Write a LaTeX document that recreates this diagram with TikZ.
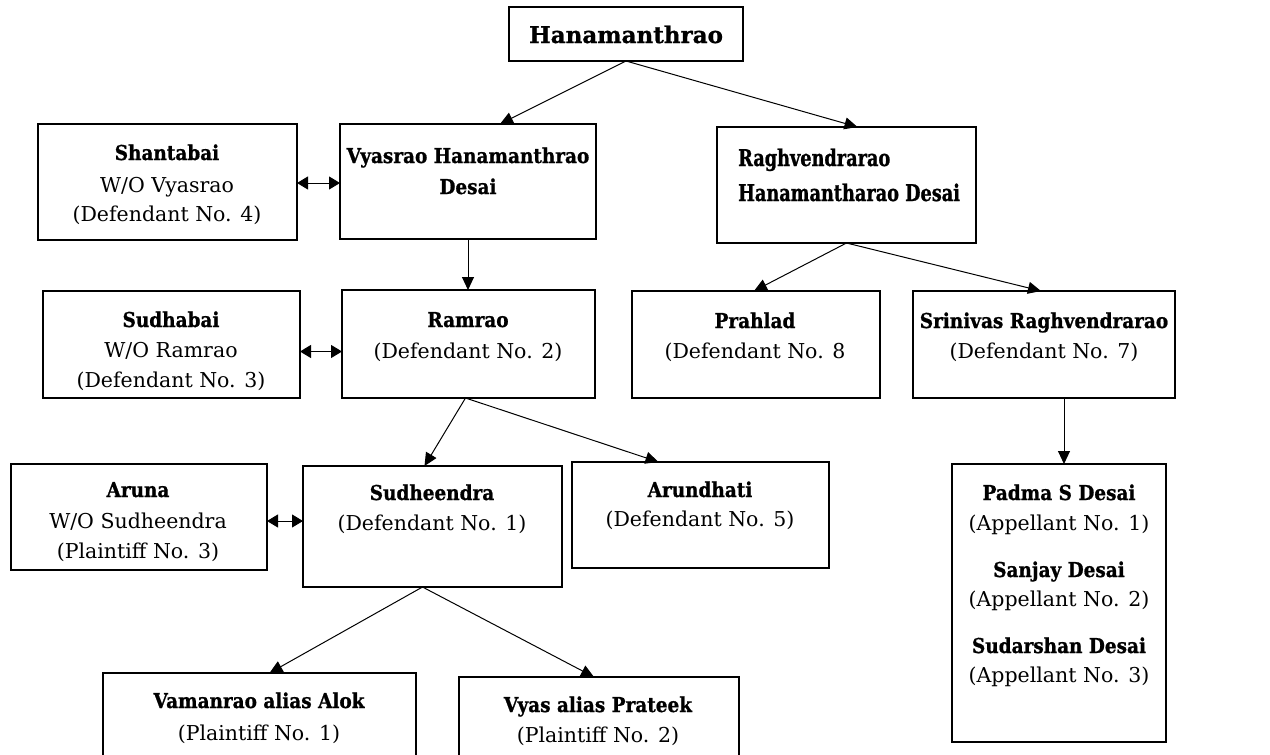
\documentclass[tikz,border=0pt]{standalone}
\usepackage{fontspec}
\setmainfont{DejaVu Serif}
\newfontfamily\bfn{DejaVu Serif}[FakeStretch=0.9, BoldFeatures={FakeBold=1}]
\newfontfamily\bfr{DejaVu Serif}[FakeStretch=0.77, BoldFeatures={FakeBold=1}]
\newfontfamily\bft{DejaVu Serif}[BoldFeatures={FakeBold=1}]
\usetikzlibrary{arrows.meta,calc}
\newcommand\bx[5]{\node[box, minimum width={(#4-#2)*1pt}, minimum height={(#5-#3)*1pt}] (#1) at ({(#2+#4)/2},{(#3+#5)/2}) {};}
\begin{document}
\begin{tikzpicture}[x=1pt,y=-1pt,
  box/.style={draw, line width=1.2pt, inner sep=0pt, outer sep=0pt},
  ln/.style={anchor=base, inner sep=0pt, font=\fontsize{20.5}{24}\selectfont},
  bl/.style={anchor=base, inner sep=0pt, font=\bfn\fontsize{20.5}{24}\selectfont\bfseries},
  ttl/.style={anchor=base, inner sep=0pt, font=\bft\fontsize{23}{27}\selectfont\bfseries},
  big/.style={anchor=base west, inner sep=0pt, font=\bfr\fontsize{23}{27}\selectfont\bfseries},
  arr/.style={line width=1pt, -{Triangle[length=13pt,width=12pt]}},
  darr/.style={line width=1pt, {Triangle[length=11pt,width=13pt]}-{Triangle[length=11pt,width=13pt]}}]
\useasboundingbox (0,0) rectangle (1270,755);
% boxes
\bx{title}{509}{7}{743}{61}
\bx{shanta}{38}{124}{297}{240}
\bx{vyas}{340}{124}{596}{239}
\bx{raghu}{717}{127}{976}{243}
\bx{sudha}{43}{291}{300}{398}
\bx{ram}{342}{290}{595}{398}
\bx{prah}{632}{291}{880}{398}
\bx{srini}{913}{291}{1175}{398}
\bx{aruna}{11}{464}{267}{570}
\bx{sudh}{303}{466}{562}{587}
\bx{arun}{572}{462}{829}{568}
\bx{vaman}{103}{673}{416}{775}
\bx{vyasp}{459}{677}{739}{775}
\bx{padma}{952}{464}{1166}{742}
% texts
\node[ttl] (t1) at (626,43) {Hanamanthrao};
\node[bl] (t2a) at (167,160) {Shantabai};
\node[ln] (t2b) at (167,192) {W/O Vyasrao};
\node[ln] (t2c) at (167,221) {(Defendant No. 4)};
\node[bl] (t3a) at (468,163) {Vyasrao Hanamanthrao};
\node[bl] (t3b) at (468,194) {Desai};
\node[big] (t4a) at (738,166) {Raghvendrarao};
\node[big] (t4b) at (738,201) {Hanamantharao Desai};
\node[bl] (t5a) at (171,327) {Sudhabai};
\node[ln] (t5b) at (171,357) {W/O Ramrao};
\node[ln] (t5c) at (171,387) {(Defendant No. 3)};
\node[bl] (t6a) at (468,327) {Ramrao};
\node[ln] (t6b) at (468,358) {(Defendant No. 2)};
\node[bl] (t7a) at (755,328) {Prahlad};
\node[ln] (t7b) at (755,358) {(Defendant No. 8};
\node[bl] (t8a) at (1044,328) {Srinivas Raghvendrarao};
\node[ln] (t8b) at (1044,358) {(Defendant No. 7)};
\node[bl] (t9a) at (138,497) {Aruna};
\node[ln] (t9b) at (138,528) {W/O Sudheendra};
\node[ln] (t9c) at (138,558) {(Plaintiff No. 3)};
\node[bl] (t10a) at (432,500) {Sudheendra};
\node[ln] (t10b) at (432,530) {(Defendant No. 1)};
\node[bl] (t11a) at (700,497) {Arundhati};
\node[ln] (t11b) at (700,526) {(Defendant No. 5)};
\node[bl] (t12a) at (259,708) {Vamanrao alias Alok};
\node[ln] (t12b) at (259,740) {(Plaintiff No. 1)};
\node[bl] (t13a) at (598,712) {Vyas alias Prateek};
\node[ln] (t13b) at (598,742) {(Plaintiff No. 2)};
\node[bl] (t14a) at (1059,500) {Padma S Desai};
\node[ln] (t14b) at (1059,530) {(Appellant No. 1)};
\node[bl] (t14c) at (1059,577) {Sanjay Desai};
\node[ln] (t14d) at (1059,606) {(Appellant No. 2)};
\node[bl] (t14e) at (1059,653) {Sudarshan Desai};
\node[ln] (t14f) at (1059,682) {(Appellant No. 3)};
% connectors
\draw[arr] (title.south) -- ([xshift=32pt]vyas.north);
\draw[arr] (title.south) -- ([xshift=11pt]raghu.north);
\draw[darr] ([yshift=-1pt]shanta.east) -- ([yshift=-1pt]shanta.east -| vyas.west);
\draw[arr] (vyas.south) -- (vyas.south |- ram.north);
\draw[arr] (raghu.south) -- ([xshift=-2pt]prah.north);
\draw[arr] (raghu.south) -- ([xshift=-3pt]srini.north);
\draw[darr] ([yshift=-7pt]sudha.east) -- ([yshift=-7pt]sudha.east -| ram.west);
\draw[arr] ([xshift=-3pt]ram.south) -- ([xshift=-8pt]sudh.north);
\draw[arr] ([xshift=-3pt]ram.south) -- ([xshift=-42pt]arun.north);
\draw[darr] ([yshift=-4pt]aruna.east) -- ([yshift=-4pt]aruna.east -| sudh.west);
\draw[arr] ([xshift=-10pt]sudh.south) -- ([xshift=10pt]vaman.north);
\draw[arr] ([xshift=-10pt]sudh.south) -- ([xshift=-5pt]vyasp.north);
\draw[arr] ([xshift=20pt]srini.south) -- ([xshift=20pt]srini.south |- padma.north);
\end{tikzpicture}
\end{document}
